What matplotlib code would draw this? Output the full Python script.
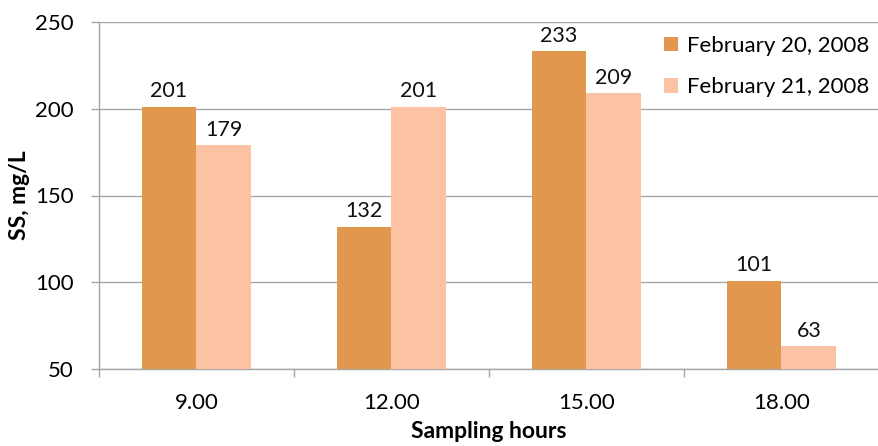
import matplotlib
matplotlib.use("Agg")
import matplotlib.pyplot as plt
import numpy as np

categories = ["9.00", "12.00", "15.00", "18.00"]
feb20 = [201, 132, 233, 101]
feb21 = [179, 201, 209, 63]
series_names = ["February 20, 2008", "February 21, 2008"]
yticks = [50, 100, 150, 200, 250]

plt.rcParams['font.family'] = ['Lato', 'DejaVu Sans']

W, H = 879, 446
fig = plt.figure(figsize=(W / 100, H / 100), dpi=100)
ax = fig.add_axes([99 / W, 1 - 369 / H, 780 / W, 347 / H])

x = np.arange(len(categories))
w = 0.282
c1, c2 = "#E2974F", "#FBC2A3"
fs = 15.5
b1 = ax.bar(x - w / 2, np.array(feb20) - 50, w, bottom=50, color=c1, label=series_names[0], zorder=3)
b2 = ax.bar(x + w / 2, np.array(feb21) - 50, w, bottom=50, color=c2, label=series_names[1], zorder=3)

for bars, vals in ((b1, feb20), (b2, feb21)):
    for r, v in zip(bars, vals):
        ax.annotate(str(v), (r.get_x() + r.get_width() / 2, v), xytext=(0, 4),
                    textcoords="offset points", ha="center", va="bottom",
                    fontsize=fs, color="#111111")

ax.set_xlim(-0.5, 3.5)
ax.set_ylim(50, 250)
ax.set_yticks(yticks)
ax.set_yticklabels([str(t) for t in yticks], fontsize=fs + 0.5)
ax.yaxis.grid(True, color="#A6A6A6", linewidth=1, zorder=0)
ax.set_xticks(x)
ax.set_xticklabels(categories, fontsize=fs + 0.5)
ax.tick_params(axis="x", length=0, pad=17)
ax.set_xticks(np.arange(-0.5, 4.0, 1.0), minor=True)
ax.tick_params(axis="x", which="minor", length=6, color="#A6A6A6", width=1)
ax.tick_params(axis="y", length=6, color="#A6A6A6", width=1, pad=12)

for s in ("top", "right"):
    ax.spines[s].set_visible(False)
for s in ("left", "bottom"):
    ax.spines[s].set_color("#A6A6A6")
    ax.spines[s].set_linewidth(1)

ax.set_ylabel("SS, mg/L", fontsize=16.5, fontweight="bold", va="center")
ax.yaxis.set_label_coords((20 - 99) / 780, 0.5)
ax.set_xlabel("Sampling hours", fontsize=16.5, fontweight="bold", va="center")
ax.xaxis.set_label_coords(0.5, (369 - 432) / 347)

leg = fig.legend(handles=[b1, b2], labels=series_names, loc="upper left",
                 bbox_to_anchor=(664 / W, 1 - 36 / H), bbox_transform=fig.transFigure,
                 frameon=False, fontsize=16, handlelength=0.63, handleheight=0.63,
                 handletextpad=0.4, labelspacing=0.95, borderpad=0, borderaxespad=0)

fig.savefig("out.png", dpi=100)
